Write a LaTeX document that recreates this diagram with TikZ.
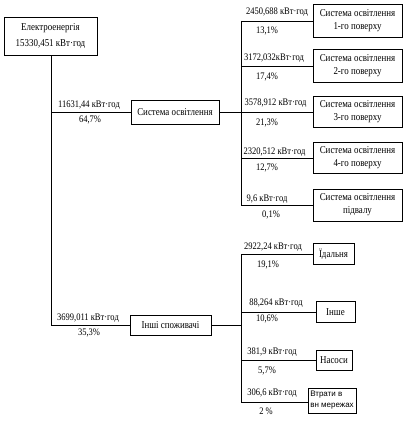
\documentclass[tikz,border=0pt]{standalone}
\usepackage{fontspec}
\setmainfont{Liberation Serif}
\newfontfamily\arialfont{Liberation Sans}
\newfontfamily\condfont[FakeStretch=0.85]{Liberation Serif}
\begin{document}
\begin{tikzpicture}[x=1pt,y=-1pt,
  box/.style={draw,line width=0.6pt,inner sep=0pt,align=center,font=\condfont\fontsize{10.5}{13}\selectfont},
  lbl/.style={inner sep=0pt,font=\condfont\fontsize{10}{10}\selectfont},
  conn/.style={line width=0.6pt}]
\useasboundingbox (0,0) rectangle (407,422);
% boxes
\node[box,minimum width=93,minimum height=38,font=\condfont\fontsize{10.5}{15.5}\selectfont] (top) at (50.5,36) {Електроенергія\\15330,451 кВт·год};
\node[box,minimum width=88,minimum height=24] (sys) at (175,112) {Система освітлення};
\node[box,minimum width=81,minimum height=20] (oth) at (170.5,325) {Інші споживачі};
\node[box,minimum width=89,minimum height=33] (f1) at (357.5,21) {Система освітлення\\1-го поверху};
\node[box,minimum width=89,minimum height=33] (f2) at (357.5,66) {Система освітлення\\2-го поверху};
\node[box,minimum width=89,minimum height=31] (f3) at (357.5,112) {Система освітлення\\3-го поверху};
\node[box,minimum width=89,minimum height=31] (f4) at (357.5,158) {Система освітлення\\4-го поверху};
\node[box,minimum width=89,minimum height=32] (f5) at (357.5,205) {Система освітлення\\підвалу};
\node[box,minimum width=41,minimum height=21] (can) at (333.5,254) {Їдальня};
\node[box,minimum width=39,minimum height=21] (misc) at (335.5,312) {Інше};
\node[box,minimum width=36,minimum height=20] (pump) at (334,360) {Насоси};
\node[box,minimum width=48,minimum height=25,align=left,font=\arialfont\fontsize{8}{11}\selectfont] (loss) at (332,400.5) {Втрати в\\вн мережах};
% junctions
\coordinate (j1) at (51,112);
\coordinate (j2) at (51,325);
\coordinate (u1) at (241,21);
\coordinate (u2) at (241,66);
\coordinate (u3) at (241,112);
\coordinate (u4) at (241,158);
\coordinate (u5) at (241,205);
\coordinate (l1) at (241,254);
\coordinate (l2) at (241,312);
\coordinate (l3) at (241,325);
\coordinate (l4) at (241,360);
\coordinate (l5) at (241,402);
% connectors
\draw[conn] (top.south -| j1) -- (j2);
\draw[conn] (j1) -- (sys.west);
\draw[conn] (j2) -- (oth.west);
\draw[conn] (sys.east) -- (u3);
\draw[conn] (u1) -- (u5);
\draw[conn] (u1) -- (f1.west);
\draw[conn] (u2) -- (f2.west);
\draw[conn] (u3) -- (f3.west);
\draw[conn] (u4) -- (f4.west);
\draw[conn] (u5) -- (f5.west);
\draw[conn] (oth.east) -- (l3);
\draw[conn] (l1) -- (l5);
\draw[conn] (l1) -- (can.west);
\draw[conn] (l2) -- (misc.west);
\draw[conn] (l4) -- (pump.west);
\draw[conn] (l5) -- (l5 -| loss.west);
% labels
\node[lbl] (a1) at (89,105) {11631,44 кВт·год};
\node[lbl] (a2) at (90,120) {64,7\%};
\node[lbl] (b1) at (88,318) {3699,011 кВт·год};
\node[lbl] (b2) at (89,333) {35,3\%};
\node[lbl] (c1) at (277,12) {2450,688 кВт·год};
\node[lbl] (c2) at (267,31) {13,1\%};
\node[lbl] (d1) at (274,58) {3172,032кВт·год};
\node[lbl] (d2) at (267,77) {17,4\%};
\node[lbl] (e1) at (275.5,103) {3578,912 кВт·год};
\node[lbl] (e2) at (267,123) {21,3\%};
\node[lbl] (g1) at (274.5,152) {2320,512 кВт·год};
\node[lbl] (g2) at (267,168) {12,7\%};
\node[lbl] (h1) at (267,199) {9,6 кВт·год};
\node[lbl] (h2) at (271,215) {0,1\%};
\node[lbl] (k1) at (273,247) {2922,24 кВт·год};
\node[lbl] (k2) at (268,265) {19,1\%};
\node[lbl] (m1) at (276,303) {88,264 кВт·год};
\node[lbl] (m2) at (267,319) {10,6\%};
\node[lbl] (n1) at (272,352) {381,9 кВт·год};
\node[lbl] (n2) at (267,371) {5,7\%};
\node[lbl] (p1) at (272,393) {306,6 кВт·год};
\node[lbl] (p2) at (266,411) {2 \%};
\end{tikzpicture}
\end{document}
